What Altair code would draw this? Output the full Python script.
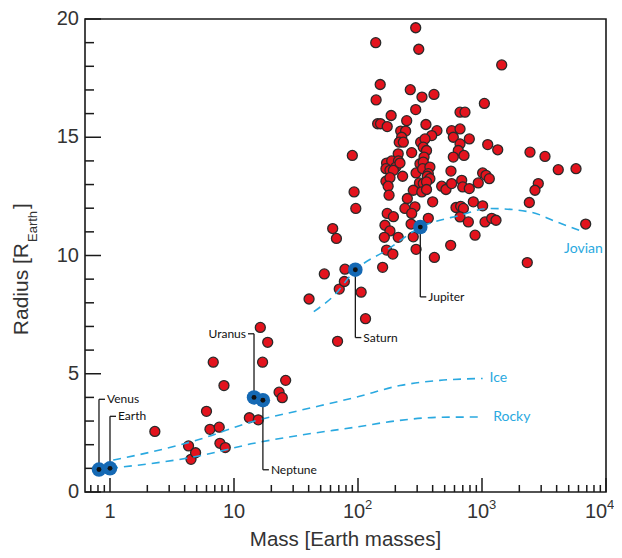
import altair as alt
import pandas as pd

# ---------------- data ----------------
red_mass = [
    2.3, 4.3, 4.5, 4.9, 6.0, 6.8, 6.4, 7.6, 8.3, 7.7, 8.5, 13.3, 15.7, 16.3, 18.7, 17.0, 26.1, 23.1, 24.5,
    40.3, 53.5, 62.5, 67, 68.4, 70.6, 77.6, 78.5, 106, 115, 158, 90, 93, 96,
    292, 139, 309, 1442, 151, 264, 140, 328, 410, 1045, 292, 185, 247, 144, 152, 172, 353, 665, 729,
    221, 242, 433, 569, 665, 790, 393, 225, 215, 232, 320, 347, 336, 357, 341, 587, 665, 644, 587, 716,
    1112, 1339, 2438, 3221, 4121, 5730, 271, 211, 170, 187, 212, 202, 168, 181, 193, 218, 168, 181, 175,
    229, 294, 316, 336, 332, 380, 369, 362, 380, 313, 336, 357, 562, 473, 512, 569, 686, 699, 790, 933,
    1012, 1077, 1145, 2844, 2675, 2408, 178, 250, 239, 288, 271, 279, 327, 357, 400, 172, 193, 165, 181,
    163, 211, 279, 268, 369, 617, 673, 708, 665, 851, 1012, 776, 1058, 1197, 1297, 879, 559, 413, 294,
    170, 191, 6858, 2318,
]
red_radius = [
    2.56, 1.95, 1.38, 1.66, 3.41, 5.49, 2.65, 2.74, 4.5, 2.06, 1.88, 3.14, 3.05, 6.96, 6.33, 5.49, 4.72, 4.22, 3.99,
    8.16, 9.22, 11.14, 10.72, 6.37, 8.58, 8.9, 9.42, 8.45, 7.33, 9.5, 14.23, 12.69, 11.99,
    19.63, 19.0, 18.72, 18.06, 17.23, 17.01, 16.58, 16.7, 16.81, 16.43, 16.17, 15.92, 15.7, 15.57, 15.57, 15.45, 15.54, 16.06, 16.06,
    15.26, 15.26, 15.28, 15.28, 15.35, 14.93, 15.07, 15.0, 14.79, 14.79, 14.79, 14.93, 14.58, 14.44, 14.16, 15.0, 14.72, 14.44, 14.16, 14.23,
    14.69, 14.47, 14.37, 14.19, 13.63, 13.67, 14.35, 14.3, 13.91, 14.0, 14.0, 13.74, 13.67, 13.6, 13.6, 13.91, 13.14, 13.29, 12.93,
    13.35, 13.49, 13.88, 13.95, 13.67, 13.74, 13.46, 13.35, 13.25, 13.07, 13.04, 13.11, 13.57, 12.93, 12.79, 13.04, 13.18, 12.9, 12.83, 13.07,
    13.49, 13.39, 13.25, 13.04, 12.76, 12.24, 12.55, 12.41, 11.99, 12.06, 11.78, 12.76, 12.69, 12.79, 12.27, 11.78, 11.64, 11.28, 11.04,
    10.77, 10.77, 10.79, 11.33, 11.57, 12.03, 12.08, 11.99, 11.63, 12.27, 12.1, 11.42, 11.42, 11.57, 11.49, 10.86, 10.43, 9.92, 10.26,
    10.23, 10.06, 11.33, 9.7,
]

planet_names = ["Venus", "Earth", "Uranus", "Neptune", "Saturn", "Jupiter"]
planet_mass = [0.815, 1.0, 14.5, 17.1, 95.2, 318]
planet_radius = [0.95, 1.0, 4.0, 3.88, 9.4, 11.2]
planet_label_radius = [3.92, 3.2, 6.69, 0.94, 6.53, 8.25]
planet_label_side = ["right", "right", "left", "right", "right", "right"]

jovian_mass = [44, 63, 95.7, 170, 322, 665, 1150, 2450, 4000, 6580]
jovian_radius = [7.63, 8.27, 9.39, 10.23, 11.2, 11.7, 11.99, 11.84, 11.42, 11.0]
ice_mass = [1.06, 2.1, 5.3, 13.5, 34, 95, 218, 457, 1012]
ice_radius = [1.35, 1.68, 2.23, 2.95, 3.45, 4.0, 4.5, 4.72, 4.8]
rocky_mass = [1.0, 5.3, 14.5, 34, 95, 218, 457, 1000]
rocky_radius = [1.0, 1.53, 2.06, 2.4, 2.74, 3.03, 3.16, 3.17]

curve_names = ["Jovian", "Ice", "Rocky"]
curve_label_mass = [6580, 1150, 1230]
curve_label_radius = [10.55, 4.8, 3.17]

ytick_major = [0, 5, 10, 15, 20]
ytick_minor = [v for v in range(21) if v % 5 != 0]
xtick_major = [1, 10, 100, 1000, 10000]
xtick_minor = [0.7, 0.8, 0.9] + [k * d for d in (1, 10, 100, 1000) for k in range(2, 10)]
xlab_vals = [1, 10, 100, 1000, 10000]
xlab_base = ["1", "10", "10", "10", "10"]
xlab_exp = ["", "", "2", "3", "4"]
ylab_vals = [0, 5, 10, 15, 20]
ylab_text = ["0", "5", "10", "15", "20"]

# ---------------- styling ----------------
W, H = 521, 473
RED = "#e3131d"
EDGE = "#2a2a2a"
PBLUE = "#1569b4"
CBLUE = "#2aa9e0"
INK = "#333333"
FONT = "Liberation Sans"
LFONT = "Lato"
TICK = 10 ** (6 / 124)

XS = alt.Scale(type="log", domain=[0.6286, 10000], nice=False)
YS = alt.Scale(domain=[0, 20], nice=False, zero=False)


def X(field):
    return alt.X(field, scale=XS, axis=None)


def Y(field):
    return alt.Y(field, scale=YS, axis=None)


# ---------------- layers ----------------
curves_df = pd.concat([
    pd.DataFrame({"mass": jovian_mass, "radius": jovian_radius, "curve": "Jovian"}),
    pd.DataFrame({"mass": ice_mass, "radius": ice_radius, "curve": "Ice"}),
    pd.DataFrame({"mass": rocky_mass, "radius": rocky_radius, "curve": "Rocky"}),
])
curves = alt.Chart(curves_df).mark_line(
    interpolate="monotone", color=CBLUE, strokeWidth=1.6, strokeDash=[8, 6]
).encode(x=X("mass:Q"), y=Y("radius:Q"), detail="curve:N")

clab_df = pd.DataFrame({"name": curve_names, "mass": curve_label_mass, "radius": curve_label_radius})
clab_center = alt.Chart(clab_df).transform_filter("datum.name == 'Jovian'").mark_text(
    align="center", baseline="top", font=LFONT, fontSize=14, color=CBLUE
).encode(x=X("mass:Q"), y=Y("radius:Q"), text="name:N")
clab_left = alt.Chart(clab_df).transform_filter("datum.name != 'Jovian'").mark_text(
    align="left", baseline="middle", font=LFONT, fontSize=14, color=CBLUE
).encode(x=X("mass:Q"), y=Y("radius:Q"), text="name:N")

red_df = pd.DataFrame({"mass": red_mass, "radius": red_radius})
pts = alt.Chart(red_df).mark_circle(
    size=100, fill=RED, stroke=EDGE, strokeWidth=1.3, opacity=1
).encode(x=X("mass:Q"), y=Y("radius:Q"))

pl = pd.DataFrame({
    "name": planet_names, "mass": planet_mass, "radius": planet_radius,
    "lr": planet_label_radius, "side": planet_label_side,
})
pl["tend"] = [m * TICK if s == "right" else m / TICK for m, s in zip(pl["mass"], pl["side"])]

lead_v = alt.Chart(pl).mark_rule(color="#1a1a1a", strokeWidth=1.3).encode(
    x=X("mass:Q"), y=Y("radius:Q"), y2="lr:Q")
lead_h = alt.Chart(pl).mark_rule(color="#1a1a1a", strokeWidth=1.3).encode(
    x=X("mass:Q"), x2="tend:Q", y=Y("lr:Q"))
plab_r = alt.Chart(pl).transform_filter("datum.side == 'right'").mark_text(
    align="left", baseline="middle", dx=2, font=LFONT, fontSize=12, color="#111"
).encode(x=X("tend:Q"), y=Y("lr:Q"), text="name:N")
plab_l = alt.Chart(pl).transform_filter("datum.side == 'left'").mark_text(
    align="right", baseline="middle", dx=-2, font=LFONT, fontSize=12, color="#111"
).encode(x=X("tend:Q"), y=Y("lr:Q"), text="name:N")

planets = alt.Chart(pl).mark_circle(size=210, fill=PBLUE, opacity=1).encode(x=X("mass:Q"), y=Y("radius:Q"))
cores = alt.Chart(pl).mark_circle(size=24, fill="#111", opacity=1).encode(x=X("mass:Q"), y=Y("radius:Q"))

# inward ticks
ymaj = alt.Chart(pd.DataFrame({"v": ytick_major})).mark_rule(color="#1a1a1a", strokeWidth=1.5).encode(
    y=Y("v:Q"), x=alt.value(0), x2=alt.value(16))
ymin = alt.Chart(pd.DataFrame({"v": ytick_minor})).mark_rule(color="#1a1a1a", strokeWidth=1.5).encode(
    y=Y("v:Q"), x=alt.value(0), x2=alt.value(9))
xmaj = alt.Chart(pd.DataFrame({"v": xtick_major})).mark_rule(color="#1a1a1a", strokeWidth=1.5).encode(
    x=X("v:Q"), y=alt.value(H), y2=alt.value(H - 14))
xmin = alt.Chart(pd.DataFrame({"v": xtick_minor})).mark_rule(color="#1a1a1a", strokeWidth=1.5).encode(
    x=X("v:Q"), y=alt.value(H), y2=alt.value(H - 7))

# tick labels
yl = pd.DataFrame({"v": ylab_vals, "t": ylab_text})
ylabels = alt.Chart(yl).mark_text(
    align="right", baseline="middle", font=FONT, fontSize=20, color=INK
).encode(y=Y("v:Q"), x=alt.value(-6), text="t:N")

xl = pd.DataFrame({"v": xlab_vals, "base": xlab_base, "exp": xlab_exp})
xl_plain = alt.Chart(xl).transform_filter("datum.exp == ''").mark_text(
    align="center", baseline="alphabetic", font=FONT, fontSize=20, color=INK
).encode(x=X("v:Q"), y=alt.value(H + 26), text="base:N")
xl_base = alt.Chart(xl).transform_filter("datum.exp != '' && datum.v < 10000").mark_text(
    align="center", baseline="alphabetic", dx=-4, font=FONT, fontSize=20, color=INK
).encode(x=X("v:Q"), y=alt.value(H + 26), text="base:N")
xl_exp = alt.Chart(xl).transform_filter("datum.exp != '' && datum.v < 10000").mark_text(
    align="left", baseline="alphabetic", dx=7, font=FONT, fontSize=13, color=INK
).encode(x=X("v:Q"), y=alt.value(H + 17), text="exp:N")
# last label kept inside the page edge
xl_base_last = alt.Chart(xl).transform_filter("datum.v >= 10000").mark_text(
    align="center", baseline="alphabetic", dx=-10, font=FONT, fontSize=20, color=INK
).encode(x=X("v:Q"), y=alt.value(H + 26), text="base:N")
xl_exp_last = alt.Chart(xl).transform_filter("datum.v >= 10000").mark_text(
    align="left", baseline="alphabetic", dx=1, font=FONT, fontSize=13, color=INK
).encode(x=X("v:Q"), y=alt.value(H + 17), text="exp:N")

# axis titles
one = pd.DataFrame({"a": [0]})
xt = alt.Chart(one).mark_text(
    text="Mass [Earth masses]", align="center", baseline="middle", font=FONT, fontSize=20.5, color=INK
).encode(x=alt.value(W / 2), y=alt.value(H + 48))
yt_main = alt.Chart(one).mark_text(
    text="Radius [R", angle=270, align="right", baseline="alphabetic", font=FONT, fontSize=21, color=INK
).encode(x=alt.value(-57), y=alt.value(224))
yt_sub = alt.Chart(one).mark_text(
    text="Earth", angle=270, align="left", baseline="alphabetic", font=FONT, fontSize=13, color=INK
).encode(x=alt.value(-48), y=alt.value(223))
yt_end = alt.Chart(one).mark_text(
    text="]", angle=270, align="left", baseline="alphabetic", font=FONT, fontSize=21, color=INK
).encode(x=alt.value(-57), y=alt.value(190))

chart = alt.layer(
    pts, curves, ymaj, ymin, xmaj, xmin, clab_center, clab_left,
    lead_v, lead_h, plab_r, plab_l, planets, cores,
    ylabels, xl_plain, xl_base, xl_exp, xl_base_last, xl_exp_last, xt, yt_main, yt_sub, yt_end,
).properties(
    width=W, height=H,
    padding={"left": 77, "top": 11, "right": 8, "bottom": 58},
    autosize=alt.AutoSizeParams(type="none"),
).configure(background="white").configure_view(stroke="#1a1a1a", strokeWidth=1.6)

chart.save("out.html", embed_options={"renderer": "svg", "actions": False})
